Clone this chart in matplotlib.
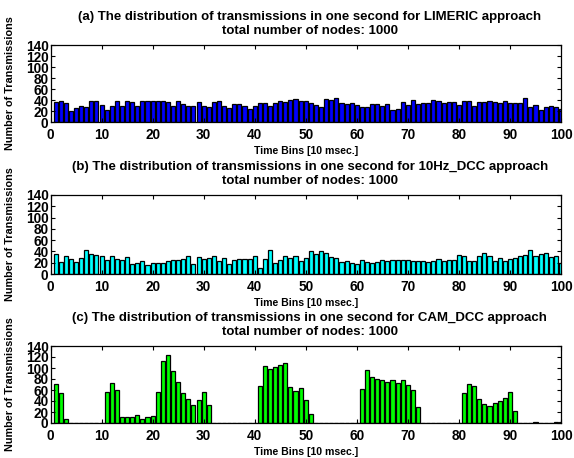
import matplotlib
matplotlib.use("Agg")
import matplotlib.pyplot as plt
import numpy as np

bins = list(range(1, 101))

limeric = [37, 39, 34.5, 20.5, 25, 30, 27, 39, 39, 31.5,
           21, 30, 39, 30, 39, 36, 28.5, 37.5, 37.5, 39,
           39, 39, 37, 30, 39, 33, 30, 28.5, 36, 29,
           27, 36, 39, 30, 25.5, 33, 33, 30, 24, 28.5,
           34.5, 34.5, 28.5, 34.5, 39, 37, 40, 42.5, 39, 39,
           34.5, 31.5, 28, 42, 40, 43, 34.5, 33, 34.5, 31.5,
           27, 28, 32, 32, 30, 33, 21, 24, 36, 31,
           40.5, 32, 34.5, 34.5, 40.5, 37.5, 35, 37, 36, 31,
           39, 39, 30, 36, 36, 38, 36, 35, 38, 34.5,
           34.5, 34.5, 43.5, 28, 31.5, 21, 27, 30, 28, 23.5]

dcc10 = [35, 20.5, 32.5, 26.5, 22, 29, 42, 36, 34.5, 32.5,
         24, 32.5, 27, 24, 30, 17.5, 20, 22.5, 16, 20,
         20, 19, 22.5, 25, 25, 26, 31.5, 18, 30, 26,
         29, 31.5, 22.5, 28, 18, 25, 26, 26, 26, 32.5,
         10, 26, 42, 20, 25, 32, 28.5, 32, 23.5, 29,
         40.5, 36, 40.5, 38, 30, 29, 22, 23, 20, 18,
         25, 22, 19, 20.5, 25, 23, 25, 25.5, 25.5, 25.5,
         23, 23, 23, 20.5, 23, 26.5, 23.5, 25.5, 25.5, 34.5,
         31.5, 22.5, 23, 32.5, 37.5, 32.5, 23, 28.5, 22.5, 26.5,
         29, 32.5, 34.5, 42, 32.5, 36, 38, 30, 31.5, 20]

camdcc = [70.5, 54, 8, 0, 0, 0, 0, 0, 0, 0,
          55.5, 73.5, 60, 11, 11.5, 11, 14, 8, 11.5, 13,
          55.5, 113.5, 124, 95, 74, 54, 44, 32.5, 41.5, 57,
          32.5, 0, 0, 0, 0, 0, 0, 0, 0, 0,
          67.5, 104, 98, 101, 106, 109, 66, 58.5, 64, 41.5,
          17, 0, 0, 0, 0, 0, 0, 0, 0, 0,
          61.5, 97, 83, 80, 79, 75, 79, 73, 78.5, 70,
          60, 30, 0, 0, 0, 0, 0, 0, 0, 0,
          54, 70.5, 67.5, 43, 35, 31.5, 37, 40, 45, 57,
          22, 0, 0, 0, 1, 0, 0, 0, 1, 1]

titles = [
    "(a) The distribution of transmissions in one second for LIMERIC approach\ntotal number of nodes: 1000",
    "(b) The distribution of transmissions in one second for 10Hz_DCC approach\ntotal number of nodes: 1000",
    "(c) The distribution of transmissions in one second for CAM_DCC approach\ntotal number of nodes: 1000",
]
series = [limeric, dcc10, camdcc]
colors = ["#0000ff", "#00ffff", "#00ff00"]
xticks = list(range(0, 101, 10))
yticks = list(range(0, 141, 20))

plt.rcParams['font.family'] = ['Liberation Sans', 'DejaVu Sans']
plt.rcParams['font.weight'] = 'bold'

fig = plt.figure(figsize=(5.74, 4.58), dpi=100)
W, H = 574.0, 458.0
left, right = 50.5, 561.0
aw = right - left
panels = [(45, 122), (195, 274), (346, 423)]

for (top, bot), vals, col, ttl in zip(panels, series, colors, titles):
    ax = fig.add_axes([left / W, 1 - bot / H, aw / W, (bot - top) / H])
    ax.bar(bins, vals, width=0.8, color=col, edgecolor='black', linewidth=0.9)
    ax.set_xlim(0, 100)
    ax.set_ylim(0, 140)
    ax.set_xticks(xticks)
    ax.set_yticks(yticks)
    ax.tick_params(axis='both', direction='in', top=True, right=True, length=3,
                   width=0.8, labelsize=9.8)
    ax.tick_params(axis='x', pad=4.5)
    ax.tick_params(axis='y', pad=1.5)
    for lab in ax.get_xticklabels() + ax.get_yticklabels():
        lab.set_fontweight('bold')
    ax.set_xlabel("Time Bins [10 msec.]", fontsize=7.6, fontweight='bold', labelpad=2.5)
    ax.set_ylabel("Number of Transmissions", fontsize=7.8, fontweight='bold')
    ax.yaxis.set_label_coords((15.0 - left) / aw, 0.5)
    t = ax.set_title(ttl, fontsize=9.5, fontweight='bold', pad=8.0, linespacing=1.2)
    t.set_x(0.5 + 4.0 / aw)
    for s in ax.spines.values():
        s.set_linewidth(0.9)

fig.savefig("out.png", dpi=100)
